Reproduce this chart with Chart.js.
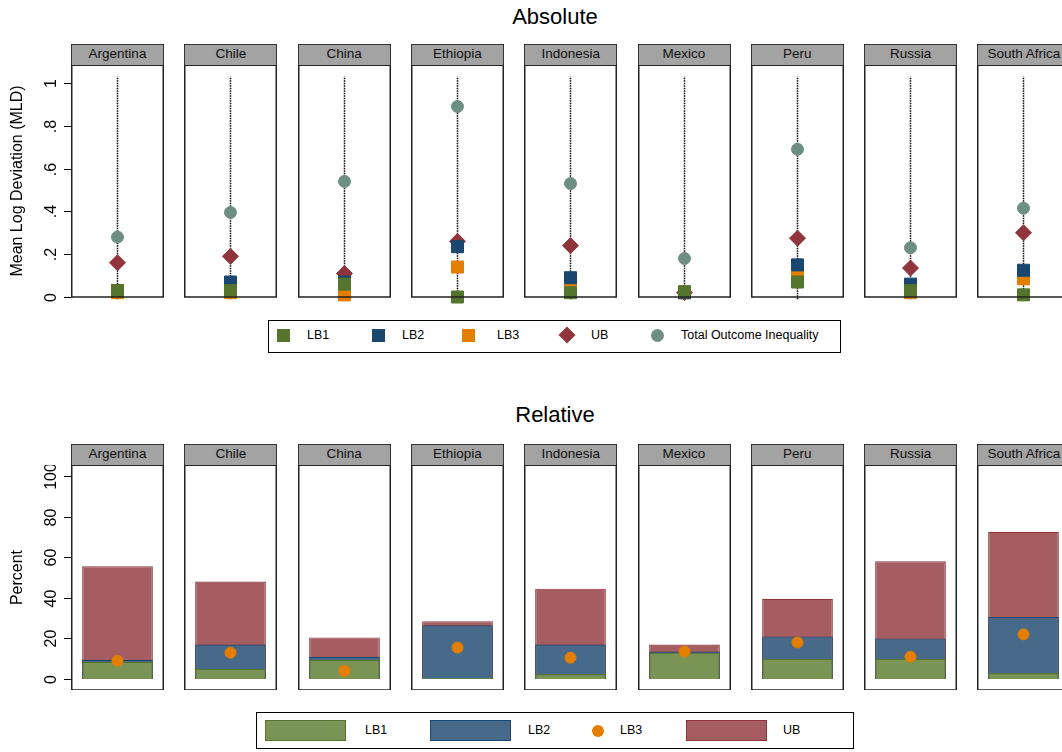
<!DOCTYPE html>
<html><head><meta charset="utf-8">
<script src="https://cdn.jsdelivr.net/npm/chart.js@4"></script>
<style>
body{margin:0;width:1062px;height:752px;overflow:hidden;background:#fff;font-family:"Liberation Sans",Arial,sans-serif;position:relative}
.abs{position:absolute}
.title{position:absolute;width:1062px;left:0;text-align:center;font-size:22px;color:#000;padding-left:48px;box-sizing:border-box}
.strip{position:absolute;background:#a3a3a3;border:1.5px solid #333;box-sizing:border-box;text-align:center;font-size:13.5px;line-height:18px;color:#111;height:22px}
.leg{position:absolute;border:1px solid #000;box-sizing:border-box;background:#fff}
.lt{position:absolute;font-size:12.5px;color:#000}
</style></head><body>
<div class="title" style="top:4px">Absolute</div>
<div class="title" style="top:402px">Relative</div>
<script>
const countries = ["Argentina","Chile","China","Ethiopia","Indonesia","Mexico","Peru","Russia","South Africa"];
// Absolute (MLD)
const absLB1 = [0.03,0.03,0.06,0.00,0.02,0.025,0.07,0.03,0.01];
const absLB2 = [0.03,0.07,0.07,0.235,0.09,0.02,0.15,0.06,0.125];
const absLB3 = [0.02,0.02,0.01,0.14,0.055,0.02,0.11,0.02,0.085];
const absUB  = [0.16,0.19,0.11,0.26,0.24,0.02,0.275,0.135,0.30];
const absTotal = [0.28,0.395,0.54,0.89,0.53,0.18,0.69,0.23,0.415];
const spikeRange = [-0.01,1.03];
const absTicks = [0,0.2,0.4,0.6,0.8,1];
const absTickLabels = ["0",".2",".4",".6",".8","1"];
// Relative (percent)
const relLB1 = [8.5,5,9.5,0.5,2.5,13,10,10,3];
const relLB2 = [9.5,17,11,26.5,17,13.5,21,20,30.5];
const relLB3 = [9,13,4,15.5,10.5,13.5,18,11,22];
const relUB  = [55.5,48,20.5,28.5,44.5,17,39.5,58,72.5];
const relTicks = [0,20,40,60,80,100];

const C = {g:'#55752f', b:'#1a476f', o:'#e37e00', r:'#90353b', t:'#6e8e84'};
const boxW = 93, step = 113.3, x0 = 71;

function axisPlugin(ticks, labels, title){
  return {id:'ax', afterDraw(ch){
    const c = ch.ctx, a = ch.chartArea, y = ch.scales.y;
    c.save(); c.strokeStyle='#000'; c.fillStyle='#000'; c.lineWidth=1;
    ticks.forEach((v,k)=>{
      const py = Math.round(y.getPixelForValue(v))+0.5;
      c.beginPath(); c.moveTo(a.left-7,py); c.lineTo(a.left,py); c.stroke();
      c.save(); c.translate(a.left-19,py); c.rotate(-Math.PI/2);
      c.font='16px "Liberation Sans",Arial'; c.textAlign='center'; c.textBaseline='middle';
      c.fillText(labels[k],0,0); c.restore();
    });
    c.save(); c.translate(18,(a.top+a.bottom)/2); c.rotate(-Math.PI/2);
    c.font='16px "Liberation Sans",Arial'; c.textAlign='center'; c.textBaseline='middle';
    c.fillText(title,0,0); c.restore();
    c.restore();
  }};
}
const boxPlugin = {id:'box', afterDraw(ch){
  const c=ch.ctx,a=ch.chartArea; c.save(); c.strokeStyle='#222'; c.lineWidth=1.5;
  c.strokeRect(a.left+0.75,a.top,a.right-a.left-1.5,a.bottom-a.top); c.restore();
}};

function place(i, top, h){
  const left = x0 + i*step;
  const cl = i===0 ? 0 : left;
  const w = i===0 ? left+boxW : boxW;
  const d = document.createElement('div');
  d.className='abs'; d.style.cssText=`left:${cl}px;top:${top}px;width:${w}px;height:${h}px`;
  const cv = document.createElement('canvas'); d.appendChild(cv); document.body.appendChild(d);
  return {cv, pad: i===0 ? left : 0};
}
function strip(i, top, name){
  const s=document.createElement('div'); s.className='strip';
  s.style.cssText=`left:${x0+i*step}px;top:${top}px;width:${boxW}px`;
  s.textContent=name; document.body.appendChild(s);
}
const common = {responsive:true, maintainAspectRatio:false, animation:false,
  plugins:{legend:{display:false}, tooltip:{enabled:false}}};

countries.forEach((name,i)=>{
  strip(i,44,name);
  const p = place(i,65,232+14);
  const pt = (arr)=>[{x:0,y:arr[i]}];
  new Chart(p.cv,{type:'scatter',data:{datasets:[
    {type:'line',data:spikeRange.map(v=>({x:0,y:v})),borderColor:'#000',borderWidth:1.5,borderDash:[1.5,1],pointRadius:0,order:10,clip:false},
    {data:pt(absTotal),pointStyle:'circle',pointRadius:6,backgroundColor:C.t,borderColor:C.t,order:5,clip:false},
    {data:pt(absUB),pointStyle:'rectRot',pointRadius:8,backgroundColor:C.r,borderColor:C.r,order:4,clip:false},
    {data:pt(absLB3),pointStyle:'rect',pointRadius:8.5,backgroundColor:C.o,borderColor:C.o,order:3,clip:false},
    {data:pt(absLB2),pointStyle:'rect',pointRadius:8.5,backgroundColor:C.b,borderColor:C.b,order:2,clip:false},
    {data:pt(absLB1),pointStyle:'rect',pointRadius:8.5,backgroundColor:C.g,borderColor:C.g,order:1,clip:false}
  ]},options:{...common,layout:{autoPadding:false,padding:{left:p.pad,top:0,right:0,bottom:14}},
    scales:{x:{type:'linear',min:-1,max:1,display:false},y:{min:0,max:1.084,display:false}}},
    plugins: i===0?[boxPlugin,axisPlugin(absTicks,absTickLabels,'Mean Log Deviation (MLD)')]:[boxPlugin]});

  strip(i,444,name);
  const q = place(i,465,225);
  const bar = (arr,fill,bc,o)=>({type:'bar',data:[arr[i]],backgroundColor:fill,borderColor:bc,borderWidth:1.2,grouped:false,order:o,barPercentage:0.76,categoryPercentage:1});
  new Chart(q.cv,{type:'bar',data:{labels:[name],datasets:[
    {type:'line',data:[relLB3[i]],showLine:false,pointRadius:5.5,backgroundColor:C.o,borderColor:C.o,order:0,clip:false},
    bar(relLB1,'#7a9456',C.g,1),
    bar(relLB2,'#476a8a',C.b,2),
    bar(relUB,'#a65d62',C.r,3)
  ]},options:{...common,layout:{autoPadding:false,padding:{left:q.pad,top:0,right:0,bottom:0}},
    scales:{x:{display:false},y:{min:-5.4,max:105.4,display:false}}},
    plugins: i===0?[boxPlugin,axisPlugin(relTicks,relTicks.map(String),'Percent')]:[boxPlugin]});
});

// legends
function add(html){document.body.insertAdjacentHTML('beforeend',html);}
add(`<div class="leg" style="left:268px;top:320px;width:573px;height:33px"></div>`);
const sq=(x,c)=>add(`<div class="abs" style="left:${x}px;top:329px;width:13px;height:13px;background:${c}"></div>`);
sq(277,C.g); sq(372,C.b); sq(462,C.o);
add(`<div class="abs" style="left:561px;top:329px;width:12px;height:12px;background:${C.r};transform:rotate(45deg)"></div>`);
add(`<div class="abs" style="left:651px;top:329px;width:13px;height:13px;border-radius:50%;background:${C.t}"></div>`);
[[307,'LB1'],[402,'LB2'],[497,'LB3'],[591,'UB'],[681,'Total Outcome Inequality']].forEach(([x,t])=>add(`<div class="lt" style="left:${x}px;top:328px">${t}</div>`));
add(`<div class="leg" style="left:256px;top:712px;width:598px;height:37px"></div>`);
const sw=(x,f,b)=>add(`<div class="abs" style="left:${x}px;top:720px;width:81px;height:21px;background:${f};border:1.2px solid ${b};box-sizing:border-box"></div>`);
sw(265,'#7a9456',C.g); sw(430,'#476a8a',C.b); sw(686,'#a65d62',C.r);
add(`<div class="abs" style="left:592px;top:725px;width:12px;height:12px;border-radius:50%;background:${C.o}"></div>`);
[[365,'LB1'],[528,'LB2'],[620,'LB3'],[783,'UB']].forEach(([x,t])=>add(`<div class="lt" style="left:${x}px;top:723px">${t}</div>`));
</script>
</body></html>
